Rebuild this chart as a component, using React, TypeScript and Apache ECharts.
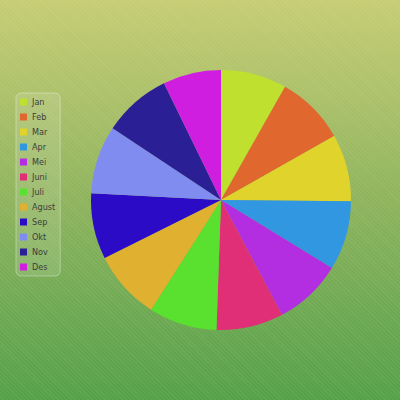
import React, { useEffect, useRef } from "react";
import * as echarts from "echarts";

const months = ["Jan", "Feb", "Mar", "Apr", "Mei", "Juni", "Juli", "Agust", "Sep", "Okt", "Nov", "Des"];
const values = [29.5, 31, 30, 31, 30.5, 30, 30.5, 31, 29.5, 30.5, 30.5, 26];
const colors = [
  "#bfe02f", "#e0682f", "#e0d42c", "#3097e0", "#b22ee0", "#e02f76",
  "#5ae02f", "#e0b030", "#2c0bc7", "#808cf0", "#2a1f95", "#cf1ee0",
];

export default function App() {
  const ref = useRef<HTMLDivElement>(null);
  useEffect(() => {
    if (!ref.current) return;
    const chart = echarts.init(ref.current, null, { renderer: "svg" });
    chart.setOption({
      animation: false,
      backgroundColor: "transparent",
      color: colors,
      legend: {
        orient: "vertical",
        left: 16,
        top: 93,
        itemWidth: 7,
        itemHeight: 7,
        itemGap: 5,
        itemTextGap: 3,
        padding: [4, 5, 4, 4],
        icon: "rect",
        backgroundColor: "rgba(255,255,255,0.12)",
        borderColor: "rgba(255,255,255,0.35)",
        borderWidth: 1,
        borderRadius: 5,
        textStyle: {
          color: "#3c3c3c",
          fontSize: 9,
          lineHeight: 10,
          fontFamily: "'DejaVu Sans Condensed', 'Liberation Sans Narrow', 'DejaVu Sans', sans-serif",
        },
        data: months,
      },
      series: [
        {
          type: "pie",
          center: [221, 200],
          radius: 130,
          startAngle: 90,
          clockwise: true,
          label: { show: false },
          labelLine: { show: false },
          emphasis: { disabled: true },
          data: months.map((m, i) => ({ name: m, value: values[i] })),
        },
      ],
    });
    return () => chart.dispose();
  }, []);
  return (
    <div
      style={{
        position: "fixed",
        left: 0,
        top: 0,
        width: 400,
        height: 400,
        background:
          "repeating-linear-gradient(45deg, rgba(255,255,255,0) 0px, rgba(255,255,255,0) 2px, rgba(255,255,255,0.06) 2px, rgba(255,255,255,0.06) 3px), linear-gradient(180deg, #c6cd74 0%, #8fb45e 50%, #55a14a 100%)",
      }}
    >
      <div ref={ref} style={{ width: 400, height: 400 }} />
    </div>
  );
}
